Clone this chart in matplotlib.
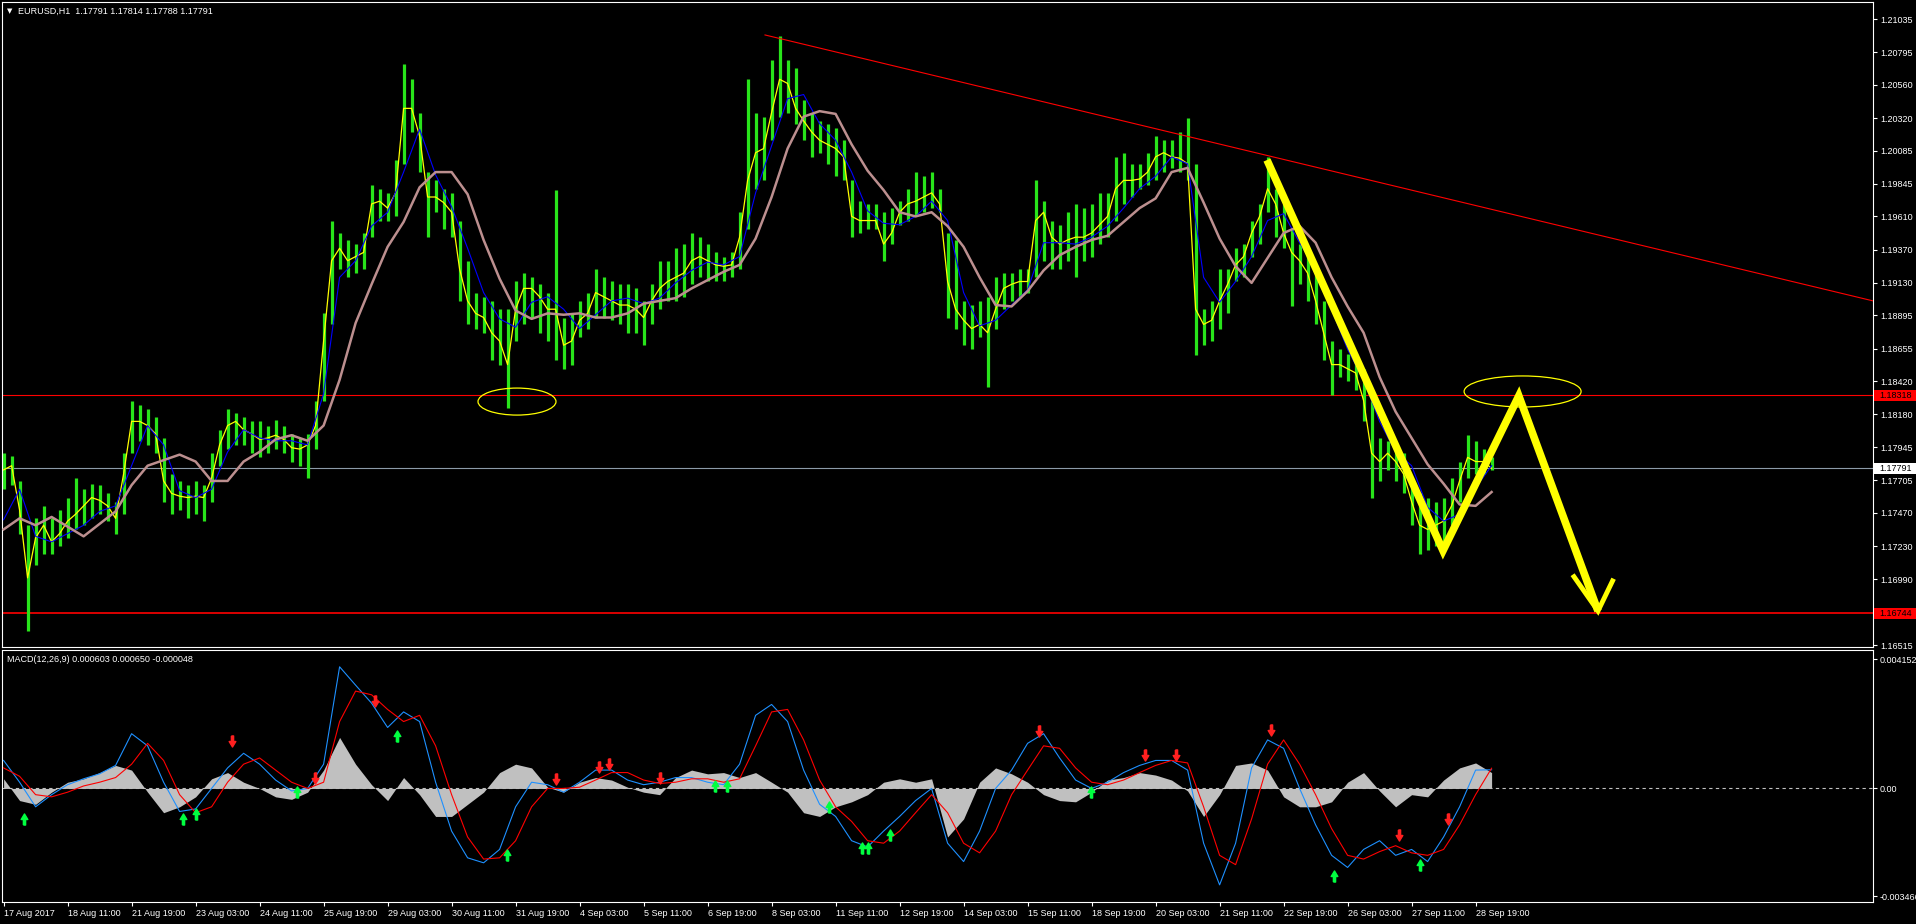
import matplotlib

matplotlib.use("Agg")
import matplotlib.pyplot as plt
import numpy as np
from matplotlib.patches import Ellipse, Rectangle
from matplotlib.path import Path
from matplotlib.transforms import blended_transform_factory

plt.rcParams["font.family"] = ["Liberation Sans", "DejaVu Sans"]

# one sample = 4 H1 bars, MA / MACD points every 8 bars
BARS_PER_SAMPLE = 4
BARS_PER_POINT = 8
BARS_PER_LABEL = 32

high = [
    1.1790, 1.1788, 1.1770, 1.1738, 1.1743, 1.1752, 1.1743, 1.1749, 1.1758, 1.1772,
    1.1764, 1.1768, 1.1767, 1.1761, 1.1755, 1.1790, 1.1828, 1.1825, 1.1822, 1.1816,
    1.1801, 1.1775, 1.1770, 1.1767, 1.1770, 1.1767, 1.1790, 1.1807, 1.1822, 1.1819,
    1.1816, 1.1813, 1.1813, 1.1810, 1.1814, 1.1810, 1.1804, 1.1801, 1.1804, 1.1828,
    1.1891, 1.1958, 1.1949, 1.1944, 1.1941, 1.1949, 1.1984, 1.1981, 1.1978, 1.2002,
    1.2071, 1.2060, 1.2036, 1.1993, 1.1987, 1.1981, 1.1978, 1.1958, 1.1929, 1.1906,
    1.1903, 1.1900, 1.1894, 1.1894, 1.1914, 1.1920, 1.1917, 1.1912, 1.1906, 1.1980,
    1.1888, 1.1891, 1.1900, 1.1906, 1.1923, 1.1917, 1.1914, 1.1912, 1.1912, 1.1909,
    1.1900, 1.1912, 1.1929, 1.1929, 1.1938, 1.1941, 1.1949, 1.1946, 1.1941, 1.1935,
    1.1932, 1.1935, 1.1964, 1.2060, 1.2036, 1.2033, 1.2074, 1.2091, 1.2074, 1.2068,
    1.2045, 1.2036, 1.2030, 1.2028, 1.2025, 1.2016, 1.1987, 1.1972, 1.1970, 1.1970,
    1.1964, 1.1967, 1.1972, 1.1981, 1.1993, 1.1990, 1.1993, 1.1981, 1.1949, 1.1944,
    1.1900, 1.1897, 1.1900, 1.1903, 1.1917, 1.1920, 1.1920, 1.1923, 1.1923, 1.1987,
    1.1972, 1.1958, 1.1955, 1.1964, 1.1970, 1.1967, 1.1970, 1.1978, 1.1978, 1.2004,
    1.2007, 1.1999, 1.1999, 1.2007, 1.2019, 1.2016, 1.2016, 1.2022, 1.2032, 1.1999,
    1.1894, 1.1900, 1.1923, 1.1923, 1.1938, 1.1941, 1.1958, 1.1970, 1.2004, 1.1981,
    1.1970, 1.1952, 1.1941, 1.1935, 1.1923, 1.1900, 1.1871, 1.1865, 1.1862, 1.1859,
    1.1851, 1.1828, 1.1801, 1.1799, 1.1796, 1.1790, 1.1772, 1.1761, 1.1758, 1.1755,
    1.1758, 1.1772, 1.1784, 1.1803, 1.1799, 1.1793, 1.1787,
]
low = [
    1.1764, 1.1767, 1.1732, 1.1662, 1.1709, 1.1717, 1.1717, 1.1723, 1.1729, 1.1735,
    1.1738, 1.1743, 1.1746, 1.1741, 1.1732, 1.1746, 1.1790, 1.1799, 1.1796, 1.1790,
    1.1755, 1.1746, 1.1749, 1.1743, 1.1746, 1.1741, 1.1755, 1.1781, 1.1793, 1.1796,
    1.1796, 1.1790, 1.1787, 1.1790, 1.1793, 1.1790, 1.1784, 1.1781, 1.1772, 1.1793,
    1.1828, 1.1883, 1.1923, 1.1917, 1.1920, 1.1923, 1.1946, 1.1958, 1.1958, 1.1961,
    1.1999, 1.2022, 1.1993, 1.1946, 1.1964, 1.1952, 1.1946, 1.1900, 1.1883, 1.1880,
    1.1877, 1.1857, 1.1854, 1.1823, 1.1871, 1.1883, 1.1888, 1.1877, 1.1871, 1.1857,
    1.1851, 1.1854, 1.1874, 1.1880, 1.1888, 1.1888, 1.1886, 1.1883, 1.1877, 1.1877,
    1.1868, 1.1883, 1.1894, 1.1900, 1.1900, 1.1903, 1.1912, 1.1917, 1.1914, 1.1914,
    1.1914, 1.1917, 1.1923, 1.1952, 1.1981, 1.1987, 1.2016, 1.2033, 1.2036, 1.2028,
    1.2016, 1.2004, 1.2007, 1.1999, 1.1990, 1.1987, 1.1946, 1.1949, 1.1952, 1.1952,
    1.1929, 1.1941, 1.1955, 1.1958, 1.1961, 1.1964, 1.1967, 1.1964, 1.1888, 1.1880,
    1.1868, 1.1865, 1.1874, 1.1838, 1.1880, 1.1894, 1.1900, 1.1903, 1.1906, 1.1917,
    1.1929, 1.1923, 1.1923, 1.1929, 1.1917, 1.1929, 1.1932, 1.1941, 1.1946, 1.1958,
    1.1970, 1.1975, 1.1981, 1.1984, 1.1987, 1.1993, 1.1996, 1.1993, 1.1987, 1.1861,
    1.1868, 1.1871, 1.1880, 1.1891, 1.1914, 1.1917, 1.1932, 1.1941, 1.1964, 1.1946,
    1.1938, 1.1896, 1.1912, 1.1900, 1.1883, 1.1857, 1.1832, 1.1845, 1.1842, 1.1836,
    1.1813, 1.1758, 1.1770, 1.1778, 1.1770, 1.1761, 1.1738, 1.1717, 1.1720, 1.1723,
    1.1720, 1.1738, 1.1755, 1.1772, 1.1775, 1.1775, 1.1778,
]
close = [
    1.1778, 1.1781, 1.1749, 1.1700, 1.1729, 1.1738, 1.1726, 1.1732, 1.1741, 1.1746,
    1.1752, 1.1758, 1.1756, 1.1752, 1.1743, 1.1775, 1.1813, 1.1813, 1.1810, 1.1804,
    1.1770, 1.1761, 1.1759, 1.1758, 1.1759, 1.1758, 1.1772, 1.1796, 1.1810, 1.1813,
    1.1807, 1.1804, 1.1800, 1.1801, 1.1803, 1.1800, 1.1794, 1.1793, 1.1796, 1.1810,
    1.1871, 1.1929, 1.1938, 1.1929, 1.1932, 1.1935, 1.1970, 1.1972, 1.1967, 1.1978,
    1.2039, 1.2039, 1.2019, 1.1975, 1.1975, 1.1971, 1.1964, 1.1923, 1.1900, 1.1891,
    1.1888, 1.1877, 1.1871, 1.1854, 1.1894, 1.1909, 1.1909, 1.1903, 1.1894, 1.1894,
    1.1868, 1.1871, 1.1886, 1.1891, 1.1906, 1.1903, 1.1900, 1.1897, 1.1897, 1.1894,
    1.1888, 1.1900, 1.1909, 1.1914, 1.1917, 1.1920, 1.1929, 1.1932, 1.1929, 1.1926,
    1.1925, 1.1926, 1.1946, 1.1987, 1.2007, 1.2010, 1.2036, 1.2060, 1.2057, 1.2039,
    1.2030, 1.2022, 1.2016, 1.2013, 1.2010, 1.2004, 1.1961, 1.1958, 1.1958, 1.1958,
    1.1941, 1.1949, 1.1964, 1.1970, 1.1972, 1.1975, 1.1978, 1.1970, 1.1914, 1.1894,
    1.1886, 1.1880, 1.1883, 1.1877, 1.1894, 1.1909, 1.1912, 1.1914, 1.1914, 1.1958,
    1.1964, 1.1946, 1.1941, 1.1944, 1.1946, 1.1946, 1.1949, 1.1955, 1.1961, 1.1981,
    1.1987, 1.1987, 1.1988, 1.1993, 1.2004, 1.2007, 1.2004, 1.2003, 1.1999, 1.1894,
    1.1883, 1.1886, 1.1900, 1.1912, 1.1926, 1.1932, 1.1949, 1.1961, 1.1981, 1.1970,
    1.1949, 1.1935, 1.1929, 1.1920, 1.1900, 1.1877, 1.1854, 1.1854, 1.1851, 1.1848,
    1.1828, 1.1790, 1.1784, 1.1790, 1.1784, 1.1775, 1.1755, 1.1738, 1.1735, 1.1738,
    1.1741, 1.1752, 1.1770, 1.1787, 1.1784, 1.1784, 1.17791,
]

ma_fast = [
    1.1742, 1.1764, 1.1730, 1.1726, 1.1732, 1.1738, 1.1748, 1.1752, 1.1781, 1.1810,
    1.1796, 1.1763, 1.1758, 1.1764, 1.1791, 1.1807, 1.1801, 1.1799, 1.1799, 1.1796,
    1.1833, 1.1917, 1.1929, 1.1954, 1.1964, 1.1993, 1.2024, 1.1991, 1.1968, 1.1938,
    1.1906, 1.1887, 1.1881, 1.1899, 1.1903, 1.1894, 1.1880, 1.1890, 1.1900, 1.1902,
    1.1898, 1.1902, 1.1913, 1.1922, 1.1928, 1.1926, 1.1932, 1.1978, 1.2012, 1.2046,
    1.2049, 1.2028, 1.2016, 1.1993, 1.1965, 1.1956, 1.1955, 1.1961, 1.1972, 1.1958,
    1.1906, 1.1882, 1.1886, 1.1897, 1.1908, 1.1942, 1.1942, 1.1941, 1.1946, 1.1954,
    1.1967, 1.1981, 1.1990, 1.2004, 1.1999, 1.1917, 1.1899, 1.1914, 1.1932, 1.1958,
    1.1963, 1.1942, 1.1923, 1.1894, 1.1865, 1.1843, 1.1813, 1.1791, 1.1781, 1.1751,
    1.1741, 1.1746, 1.1765, 1.1781,
]
ma_slow = [
    1.1735, 1.1743, 1.1738, 1.1744, 1.1737, 1.1730, 1.1739, 1.1748, 1.1767, 1.1781,
    1.1785, 1.1789, 1.1784, 1.1770, 1.1770, 1.1784, 1.1791, 1.1800, 1.1803, 1.1799,
    1.1810, 1.1843, 1.1884, 1.1912, 1.1939, 1.1957, 1.1982, 1.1993, 1.1993, 1.1977,
    1.1944, 1.1916, 1.1893, 1.1887, 1.1891, 1.1890, 1.1891, 1.1888, 1.1888, 1.1891,
    1.1898, 1.1900, 1.1902, 1.1909, 1.1915, 1.1921, 1.1926, 1.1945, 1.1975, 1.2010,
    1.2033, 1.2037, 1.2035, 1.2013, 1.1994, 1.1980, 1.1964, 1.1961, 1.1964, 1.1954,
    1.1939, 1.1917, 1.1897, 1.1896, 1.1907, 1.1922, 1.1933, 1.1939, 1.1944, 1.1947,
    1.1957, 1.1967, 1.1974, 1.1993, 1.1996, 1.1971, 1.1945, 1.1925, 1.1913, 1.1931,
    1.1949, 1.1954, 1.1942, 1.1917, 1.1896, 1.1877, 1.1845, 1.1820, 1.1801, 1.1782,
    1.1768, 1.1753, 1.1752, 1.1762,
]

macd_main = [
    0.00090, 0.00020, -0.00059, -0.00020, 0.00012, 0.00031, 0.00047, 0.00074, 0.00176, 0.00137,
    0.00020, -0.00074, -0.00066, 0.00000, 0.00066, 0.00113, 0.00078, 0.00027, -0.00008, 0.00000,
    0.00078, 0.00391, 0.00332, 0.00274, 0.00196, 0.00246, 0.00215, 0.00020, -0.00137, -0.00223,
    -0.00239, -0.00196, -0.00059, 0.00020, 0.00012, -0.00012, 0.00020, 0.00059, 0.00059, 0.00027,
    0.00012, 0.00020, 0.00035, 0.00035, 0.00020, 0.00012, 0.00078, 0.00235, 0.00270, 0.00215,
    0.00059, -0.00051, -0.00090, -0.00168, -0.00188, -0.00137, -0.00090, -0.00039, 0.00000, -0.00176,
    -0.00235, -0.00137, 0.00000, 0.00059, 0.00145, 0.00176, 0.00098, 0.00027, 0.00000, 0.00020,
    0.00051, 0.00074, 0.00090, 0.00090, 0.00059, -0.00176, -0.00310, -0.00176, 0.00066, 0.00156,
    0.00129, 0.00000, -0.00117, -0.00215, -0.00254, -0.00196, -0.00168, -0.00215, -0.00196, -0.00235,
    -0.00156, -0.00059, 0.00059, 0.00060,
]
macd_signal = [
    0.00066, 0.00039, -0.00020, -0.00027, -0.00012, 0.00008, 0.00020, 0.00035, 0.00078, 0.00145,
    0.00090, -0.00020, -0.00078, -0.00059, 0.00020, 0.00078, 0.00098, 0.00059, 0.00020, 0.00000,
    0.00020, 0.00215, 0.00313, 0.00301, 0.00254, 0.00215, 0.00235, 0.00137, -0.00020, -0.00156,
    -0.00227, -0.00223, -0.00168, -0.00059, 0.00000, 0.00000, 0.00004, 0.00027, 0.00051, 0.00051,
    0.00027, 0.00016, 0.00020, 0.00031, 0.00031, 0.00020, 0.00031, 0.00137, 0.00246, 0.00254,
    0.00156, 0.00027, -0.00059, -0.00106, -0.00168, -0.00176, -0.00137, -0.00078, -0.00020, -0.00078,
    -0.00176, -0.00207, -0.00137, -0.00020, 0.00059, 0.00137, 0.00129, 0.00066, 0.00020, 0.00012,
    0.00027, 0.00051, 0.00074, 0.00090, 0.00082, -0.00059, -0.00215, -0.00245, -0.00098, 0.00078,
    0.00156, 0.00078, -0.00020, -0.00129, -0.00215, -0.00227, -0.00203, -0.00184, -0.00207, -0.00215,
    -0.00196, -0.00117, -0.00020, 0.00065,
]
macd_hist = [
    0.00031, -0.00039, -0.00051, -0.00012, 0.00020, 0.00031, 0.00051, 0.00074, 0.00059, -0.00012,
    -0.00078, -0.00059, -0.00027, 0.00031, 0.00051, 0.00020, 0.00000, -0.00027, -0.00035, -0.00012,
    0.00059, 0.00164, 0.00078, 0.00012, -0.00039, 0.00035, -0.00020, -0.00090, -0.00090, -0.00051,
    -0.00012, 0.00051, 0.00078, 0.00066, 0.00004, -0.00012, 0.00020, 0.00035, 0.00027, 0.00004,
    -0.00012, -0.00020, 0.00035, 0.00059, 0.00047, 0.00051, 0.00035, 0.00051, 0.00020, -0.00012,
    -0.00078, -0.00090, -0.00059, -0.00043, -0.00020, 0.00020, 0.00031, 0.00020, 0.00031, -0.00156,
    -0.00098, 0.00020, 0.00066, 0.00047, 0.00020, -0.00020, -0.00039, -0.00043, -0.00012, 0.00027,
    0.00035, 0.00051, 0.00043, 0.00027, -0.00008, -0.00090, -0.00020, 0.00074, 0.00082, 0.00059,
    -0.00027, -0.00059, -0.00059, -0.00043, 0.00020, 0.00051, -0.00008, -0.00059, -0.00020, -0.00027,
    0.00027, 0.00066, 0.00082, 0.00051,
]

# MACD cross signals: bar index, value
sell_bar = [114.3, 155.8, 185.8, 276.2, 297.6, 302.5, 328.1, 517.6, 570.7, 586.0, 633.6, 697.8, 722.2]
sell_val = [0.00152, 0.00035, 0.00282, 0.00031, 0.00070, 0.00078, 0.00035, 0.00184, 0.00109,
            0.00106, 0.00188, -0.00149, -0.00098]
buy_bar = [10.4, 89.9, 96.0, 146.7, 196.8, 251.8, 355.6, 361.7, 412.5, 429.0, 432.0, 443.0,
           543.8, 665.4, 708.2]
buy_val = [-0.00098, -0.00098, -0.00082, -0.00012, 0.00168, -0.00215, 0.00008, 0.00008,
           -0.00059, -0.00192, -0.00192, -0.00149, -0.00012, -0.00282, -0.00246]

time_labels = [
    "17 Aug 2017", "18 Aug 11:00", "21 Aug 19:00", "23 Aug 03:00", "24 Aug 11:00",
    "25 Aug 19:00", "29 Aug 03:00", "30 Aug 11:00", "31 Aug 19:00", "4 Sep 03:00",
    "5 Sep 11:00", "6 Sep 19:00", "8 Sep 03:00", "11 Sep 11:00", "12 Sep 19:00",
    "14 Sep 03:00", "15 Sep 11:00", "18 Sep 19:00", "20 Sep 03:00", "21 Sep 11:00",
    "22 Sep 19:00", "26 Sep 03:00", "27 Sep 11:00", "28 Sep 19:00",
]
price_ticks = [1.21035, 1.20795, 1.20560, 1.20320, 1.20085, 1.19845, 1.19610, 1.19370,
               1.19130, 1.18895, 1.18655, 1.18420, 1.18180, 1.17945, 1.17705, 1.17470,
               1.17230, 1.16990, 1.16515]

level_top = 1.18318
level_low = 1.16744
bid = 1.17791

# drawing objects (bar index, price)
trend_bar = [380.7, 934.7]
trend_price = [1.2092, 1.1900]
ellipse_specs = [(256.7, 1.18273, 39.0, 0.00195), (759.5, 1.18346, 58.5, 0.00224)]
zigzag_bar = [631.7, 719.7, 757.6, 797.2]
zigzag_price = [1.20017, 1.17197, 1.18314, 1.16761]
head_bar = [784.5, 797.2, 805.0]
head_price = [1.17023, 1.16761, 1.16994]

W, H = 1916, 924
fig = plt.figure(figsize=(W / 100, H / 100), dpi=100, facecolor="black")
ax = fig.add_axes([2 / W, 1 - 647 / H, 1871 / W, 645 / H])
ax2 = fig.add_axes([2 / W, 1 - 902 / H, 1871 / W, 252 / H])

for a in (ax, ax2):
    a.set_facecolor("black")
    for s in a.spines.values():
        s.set_color("white")
        s.set_linewidth(0.8)
    a.set_xlim(-0.8, 934.7)
    a.yaxis.tick_right()
    a.tick_params(axis="y", colors="white", labelsize=6.5, length=3, width=0.8, pad=2)

# price panel
xs = np.arange(len(high)) * BARS_PER_SAMPLE
xm = np.arange(len(ma_fast)) * BARS_PER_POINT
ax.vlines(xs, low, high, color="#28e41a", lw=2.3, zorder=2)
ax.plot(xs, close, color="#ffff00", lw=0.9, zorder=3)
ax.plot(xm, ma_fast, color="#0000ff", lw=0.8, zorder=3)
ax.plot(xm, ma_slow, color="#bc8f8f", lw=1.8, zorder=3)

ax.axhline(level_top, color="#ff0000", lw=0.8, zorder=1)
ax.axhline(level_low, color="#ff0000", lw=1.2, zorder=1)
ax.axhline(bid, color="#8c9aa8", lw=0.8, zorder=1)
ax.plot(trend_bar, trend_price, color="#ff0000", lw=0.8, zorder=4)
for xc, yc, w, h in ellipse_specs:
    ax.add_patch(Ellipse((xc, yc), w, h, fill=False, edgecolor="#ffff00", lw=0.9, zorder=4))
ax.plot(zigzag_bar, zigzag_price, color="#ffff00", lw=5.5,
        solid_joinstyle="miter", solid_capstyle="butt", zorder=5)
ax.plot(head_bar, head_price, color="#ffff00", lw=3.5,
        solid_joinstyle="miter", solid_capstyle="butt", zorder=5)

ax.set_ylim(1.16501, 1.21158)
ax.set_yticks(price_ticks)
ax.set_yticklabels([f"{t:.5f}" for t in price_ticks])
ax.tick_params(axis="x", bottom=False, labelbottom=False)

# price labels on the scale
tr = blended_transform_factory(fig.transFigure, ax.transData)
box_h = 11 / 13850
for lvl, bg, fg in [(level_top, "#ff0000", "black"), (level_low, "#ff0000", "black"),
                    (bid, "white", "black")]:
    ax.add_patch(Rectangle((1874 / W, lvl - box_h / 2), 42 / W, box_h, transform=tr,
                           facecolor=bg, edgecolor="none", clip_on=False, zorder=6))
    ax.text(1879 / W, lvl, f"{lvl:.5f}", transform=tr, color=fg, fontsize=6.5,
            va="center", ha="left", clip_on=False, zorder=7)

fig.text(7 / W, 1 - 11 / H, "\u25bc", color="white", fontsize=5, va="center",
         family="DejaVu Sans")
fig.text(18 / W, 1 - 11 / H, "EURUSD,H1  1.17791 1.17814 1.17788 1.17791",
         color="white", fontsize=6.5, va="center")

# MACD panel
xj = np.arange(len(macd_main)) * BARS_PER_POINT
ax2.axhline(0, color="#c0c0c0", lw=0.8, ls=(0, (3, 3)), zorder=1)
ax2.fill_between(xj, 0, macd_hist, color="#c0c0c0", lw=0, zorder=2)
ax2.plot(xj, macd_main, color="#1e90ff", lw=0.8, zorder=3)
ax2.plot(xj, macd_signal, color="#ff0000", lw=0.8, zorder=3)

down = Path([(-0.2, 1), (0.2, 1), (0.2, 0), (0.6, 0), (0, -1), (-0.6, 0), (-0.2, 0), (-0.2, 1)])
up = Path([(-0.2, -1), (0.2, -1), (0.2, 0), (0.6, 0), (0, 1), (-0.6, 0), (-0.2, 0), (-0.2, -1)])
ax2.plot(sell_bar, sell_val, ls="none", marker=down, ms=8, color="#ff2020", zorder=4)
ax2.plot(buy_bar, buy_val, ls="none", marker=up, ms=8, color="#00ff40", zorder=4)

ax2.set_ylim(-0.00365, 0.00445)
ax2.set_yticks([0.004152, 0.0, -0.003466])
ax2.set_yticklabels(["0.004152", "0.00", "-0.003466"])
ax2.set_xticks(np.arange(len(time_labels)) * BARS_PER_LABEL)
ax2.set_xticklabels(time_labels, ha="left")
ax2.tick_params(axis="x", colors="white", labelsize=6.5, length=3, width=0.8, pad=2)

fig.text(7 / W, 1 - 660 / H, "MACD(12,26,9) 0.000603 0.000650 -0.000048",
         color="white", fontsize=6.5, va="center")

fig.savefig("out.png", dpi=100, facecolor="black")
plt.close(fig)
